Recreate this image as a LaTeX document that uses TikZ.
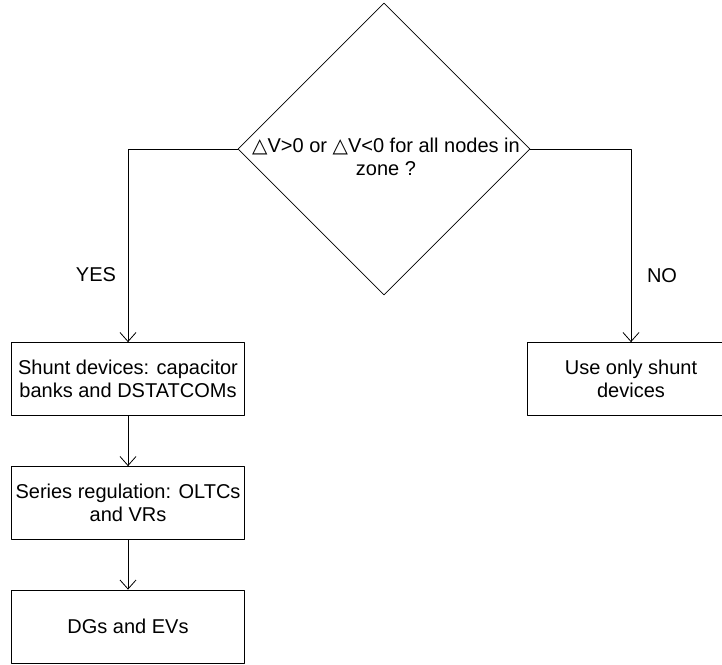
\documentclass[tikz,border=0pt]{standalone}
\usepackage{fontspec}
\setmainfont{Liberation Sans}
\newfontfamily\symfont{DejaVu Sans}
\usetikzlibrary{shapes.geometric,arrows.meta}
\tikzset{box/.style={draw, align=center, inner sep=0pt, minimum height=73pt}}
\begin{document}
\begin{tikzpicture}[x=1pt,y=-1pt,>={Straight Barb[length=9pt,width=16pt]}, font=\fontsize{20}{23}\selectfont, line join=round, line cap=round, line width=.8pt]
		\def\tri{{\symfont △}} % Delta
		\useasboundingbox (0,0) rectangle (722,664);
		\node[draw, diamond, aspect=1, minimum size=292pt, inner sep=0pt] (q) at (384,149) {};
		\node[align=center] (qtext) at (386,157) {\tri V>0 or \tri V<0 for all nodes in\\zone ?};
		\node[box, minimum width=233pt] (shunt) at (128,379) {Shunt devices: capacitor\\banks and DSTATCOMs};
		\node[box, minimum width=233pt] (series) at (128,503) {Series regulation: OLTCs\\and VRs};
		\node[box, minimum width=233pt] (dg) at (128,626.5) {DGs and EVs};
		\node[box, minimum width=208pt] (only) at (631,379) {Use only shunt\\devices};
		\node (yes) at (96,275) {YES};
		\node (no) at (662,276) {NO};
		\draw[->] (q.west) -| (shunt.north);
		\draw[->] (q.east) -| (only.north);
		\draw[->] (shunt) -- (series);
		\draw[->] (series) -- (dg);
		\end{tikzpicture}
\end{document}
